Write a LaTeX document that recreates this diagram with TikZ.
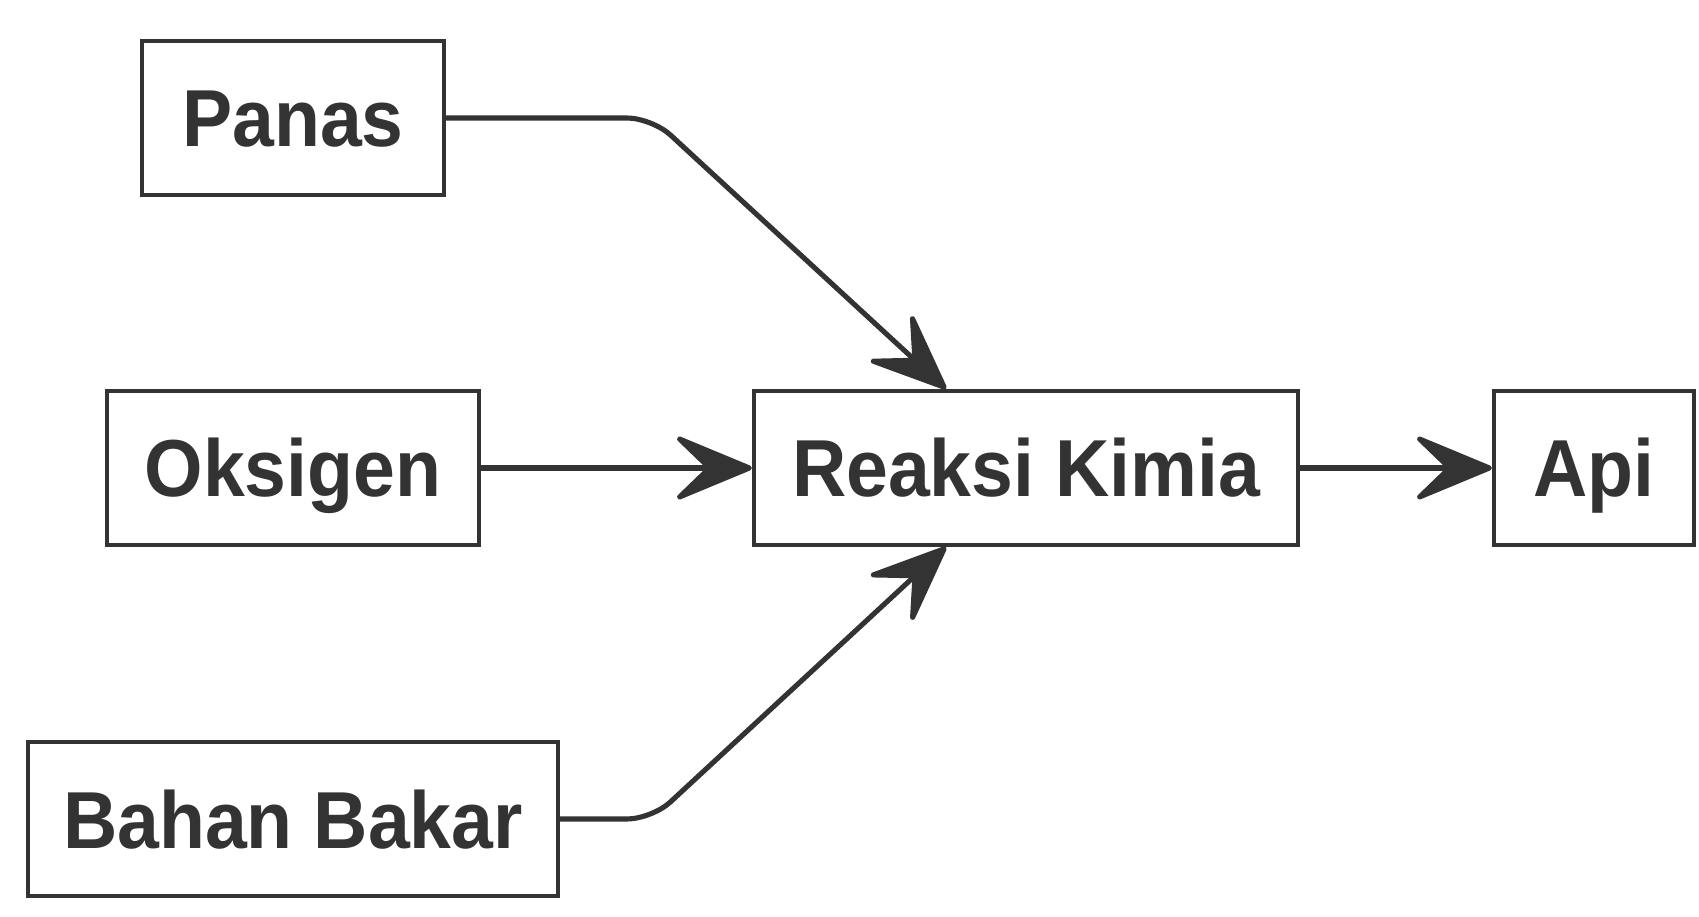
\documentclass[tikz,border=0pt]{standalone}
\usepackage{fontspec}
\setmainfont{Liberation Sans}[FakeStretch=0.93]
\usetikzlibrary{arrows.meta}
\definecolor{FireGray}{HTML}{333333}

\tikzset{
  box/.style={draw=FireGray,fill=white,line width=2.4pt,minimum height=3.08cm,
    text=FireGray,font=\fontsize{46}{50}\selectfont\bfseries,inner sep=0pt,
    text height=33pt,text depth=0pt},
  flow/.style={draw=FireGray,line width=2.9pt,rounded corners=0.5cm,
    -{Stealth[length=1.75cm,width=1.45cm,inset=0.75cm,round]}}
}

\begin{document}
\begin{tikzpicture}
\fill[white] (0,0) rectangle (33.98,18.32);
\useasboundingbox (0,0) rectangle (33.98,18.32);
\node[box,minimum width=6.04cm] (panas) at (5.86,15.96) {Panas};
\node[box,minimum width=7.44cm] (oksigen) at (5.86,8.96) {Oksigen};
\node[box,minimum width=10.6cm] (bahan) at (5.86,1.94) {Bahan Bakar};
\node[box,minimum width=10.88cm] (reaksi) at (20.52,8.96) {Reaksi Kimia};
\node[box,minimum width=4cm] (api) at (31.88,8.96) {Api};
\coordinate (kinkP) at (13.04,15.96);
\coordinate (kinkB) at (13.04,1.94);
\draw[flow] (panas.east) -- (kinkP) -- ([xshift=-1.6cm]reaksi.north);
\draw[flow] (oksigen) -- (reaksi);
\draw[flow] (bahan.east) -- (kinkB) -- ([xshift=-1.6cm]reaksi.south);
\draw[flow] (reaksi) -- (api);
\end{tikzpicture}
\end{document}
